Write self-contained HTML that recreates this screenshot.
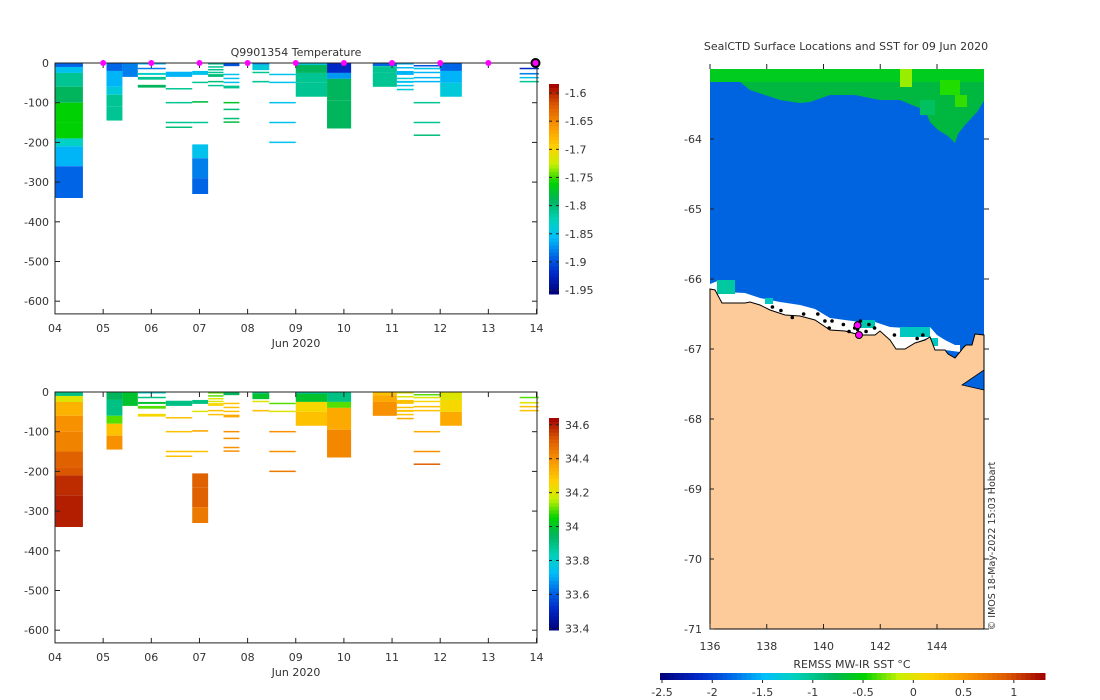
<!DOCTYPE html>
<html><head><meta charset="utf-8"><style>
html,body{margin:0;padding:0;background:#fff}
svg{display:block;font-family:"DejaVu Sans","Liberation Sans",sans-serif;font-size:11px;fill:#333}
</style></head><body>
<svg id="chart" width="1100" height="700" viewBox="0 0 1100 700" xmlns="http://www.w3.org/2000/svg">
<g id="g-top"></g>
<g id="g-bot"></g>
<g id="g-map"></g>
</svg>
<script>
// ---- data ----
const castStart=[0,1.07,1.4,1.72,2.3,2.85,3.18,3.5,4.1,4.45,5.0,5.65,6.6,7.1,7.45,8.0,9.65];
const castEnd=[0.58,1.4,1.72,2.3,2.85,3.18,3.5,3.83,4.45,5.0,5.65,6.15,7.1,7.45,8.0,8.45,10.05];
const castDepths=[
[[0,10],[10,25],[25,60],[60,100],[100,150],[150,190],[190,210],[210,260],[260,340]],
[[0,20],[20,60],[60,80],[80,110],[110,145]],
[[0,35]],
[[0,3],[12,15],[25,30],[35,42],[55,62]],
[[22,35],[63,66],[98,101],[148,151],[160,163]],
[[20,30],[47,50],[96,100],[148,151],[205,240],[240,290],[290,330]],
[[0,4],[8,11],[15,18],[22,25],[28,35],[45,48],[55,58]],
[[0,8],[27,30],[37,40],[47,50],[57,64],[98,101],[115,118],[138,141],[147,150]],
[[0,4],[4,18],[22,25],[45,49]],
[[27,30],[47,50],[98,101],[148,151],[198,201]],
[[0,5],[5,25],[25,50],[50,85]],
[[0,25],[25,40],[40,95],[95,165]],
[[0,8],[8,25],[25,60]],
[[0,4],[10,13],[20,30],[37,40],[45,50],[55,58],[65,68]],
[[5,8],[12,16],[22,25],[35,38],[45,48],[98,101],[148,151],[180,183]],
[[0,20],[20,50],[50,85]],
[[12,15],[25,29],[35,38],[45,48]]
];
const castTemp=[
[-1.89,-1.85,-1.81,-1.79,-1.76,-1.76,-1.83,-1.86,-1.89],
[-1.89,-1.86,-1.84,-1.81,-1.81],
[-1.88],
[-1.86,-1.88,-1.83,-1.81,-1.79],
[-1.86,-1.81,-1.81,-1.81,-1.8],
[-1.85,-1.81,-1.78,-1.81,-1.85,-1.88,-1.89],
[-1.81,-1.81,-1.81,-1.81,-1.8,-1.8,-1.81],
[-1.9,-1.85,-1.85,-1.85,-1.81,-1.77,-1.8,-1.8,-1.78],
[-1.88,-1.84,-1.81,-1.81],
[-1.85,-1.85,-1.85,-1.85,-1.85],
[-1.84,-1.79,-1.81,-1.81],
[-1.92,-1.87,-1.79,-1.79],
[-1.89,-1.81,-1.81],
[-1.86,-1.86,-1.86,-1.84,-1.85,-1.85,-1.84],
[-1.9,-1.85,-1.86,-1.86,-1.86,-1.81,-1.81,-1.8],
[-1.89,-1.86,-1.84],
[-1.92,-1.88,-1.85,-1.81]
];
const castSal=[
[33.9,34.2,34.33,34.4,34.43,34.5,34.52,34.58,34.6],
[33.95,33.9,34.1,34.3,34.4],
[34.0],
[33.8,33.9,34.0,34.1,34.25],
[33.9,34.3,34.3,34.3,34.3],
[33.9,34.2,34.35,34.3,34.5,34.5,34.45],
[34.1,34.1,34.2,34.2,34.25,34.3,34.3],
[33.95,34.3,34.3,34.3,34.35,34.4,34.4,34.4,34.4],
[33.9,34.0,34.2,34.3],
[34.1,34.2,34.4,34.4,34.45],
[33.9,34.0,34.25,34.3],
[33.9,34.1,34.35,34.42],
[34.3,34.35,34.4],
[34.2,34.2,34.3,34.3,34.3,34.3,34.35],
[34.1,34.2,34.25,34.3,34.3,34.35,34.4,34.5],
[34.2,34.25,34.35],
[34.1,34.2,34.3,34.3]
];
const dayLabels=["04","05","06","07","08","09","10","11","12","13","14"];
const depthTicks=[0,-100,-200,-300,-400,-500,-600];
const tempTicks=[-1.6,-1.65,-1.7,-1.75,-1.8,-1.85,-1.9,-1.95];
const salTicks=[34.6,34.4,34.2,34,33.8,33.6,33.4];
const surfaceMarkDays=[1,2,3,4,5,6,7,8,9];
const lastMarkDay=10;
const lonTicks=[136,138,140,142,144];
const latTicks=[-64,-65,-66,-67,-68,-69,-70,-71];
const sstTicks=[-2.5,-2,-1.5,-1,-0.5,0,0.5,1];
const stationLon=[138.2,138.5,138.9,139.3,139.8,140.3,140.7,140.9,141.1,141.3,141.5,141.6,141.8,142.5,143.3,143.5,140.05,140.2,141.2];
const stationLat=[-66.4,-66.45,-66.55,-66.5,-66.5,-66.6,-66.65,-66.75,-66.7,-66.6,-66.75,-66.65,-66.7,-66.8,-66.85,-66.8,-66.6,-66.7,-66.72];
const latestLon=[141.2,141.25];
const latestLat=[-66.66,-66.8];

// ---- helpers ----
const NS="http://www.w3.org/2000/svg";
function mk(tag,attrs,parent){const e=document.createElementNS(NS,tag);for(const k in attrs)e.setAttribute(k,attrs[k]);parent.appendChild(e);return e;}
const stops=[[0,[0,0,120]],[0.1,[0,40,200]],[0.18,[0,100,230]],[0.27,[0,190,250]],[0.35,[0,210,190]],[0.45,[0,180,90]],[0.53,[0,210,0]],[0.62,[200,240,0]],[0.7,[255,210,0]],[0.8,[250,150,0]],[0.9,[220,90,0]],[1,[160,0,0]]];
function cmap(t){t=Math.max(0,Math.min(1,t));for(let i=1;i<stops.length;i++){if(t<=stops[i][0]){const a=stops[i-1],b=stops[i];const f=(t-a[0])/(b[0]-a[0]);const c=a[1].map((v,j)=>Math.round(v+(b[1][j]-v)*f));return `rgb(${c[0]},${c[1]},${c[2]})`;}}return 'rgb(160,0,0)';}

function profilePanel(g,y0,values,vmin,vmax,ticks,cbTop,cbBot,title,name){
  const X0=55,X1=537,dayW=48.15,pxPer100=39.7;
  const xs=d=>X0+d*dayW, ys=z=>y0-z/100*pxPer100;
  const yBottom=ys(-632);
  for(let c=0;c<castStart.length;c++){
    for(let s=0;s<castDepths[c].length;s++){
      const seg=castDepths[c][s];
      const r=mk('rect',{x:xs(castStart[c]),y:ys(-seg[0]),width:xs(castEnd[c])-xs(castStart[c]),height:Math.max(1.5,ys(-seg[1])-ys(-seg[0])),fill:cmap((values[c][s]-vmin)/(vmax-vmin))},g);
      
      
    }
  }
  const fr=mk('rect',{x:X0,y:y0,width:X1-X0,height:yBottom-y0,fill:'none',stroke:'#222','stroke-width':1},g);
  
  
  depthTicks.forEach(d=>{const y=ys(d);
    mk('line',{x1:X0,x2:X0+5,y1:y,y2:y,stroke:'#222'},g);mk('line',{x1:X1-5,x2:X1,y1:y,y2:y,stroke:'#222'},g);
    const t=mk('text',{x:X0-6,y:y+4,'text-anchor':'end'},g);t.textContent=d;
    
    });
  dayLabels.forEach((l,i)=>{const x=xs(i);
    mk('line',{x1:x,x2:x,y1:yBottom,y2:yBottom-5,stroke:'#222'},g);mk('line',{x1:x,x2:x,y1:y0,y2:y0+5,stroke:'#222'},g);
    const t=mk('text',{x:x,y:yBottom+18,'text-anchor':'middle'},g);t.textContent=l;
    
    });
  const xl=mk('text',{x:296,y:yBottom+33,'text-anchor':'middle'},g);xl.textContent='Jun 2020';
  
  
  if(title){const tt=mk('text',{x:296,y:y0-7,'text-anchor':'middle'},g);tt.textContent=title;
    
    }
  const cbX=549,cbW=10,N=60;
  for(let i=0;i<N;i++){const r=mk('rect',{x:cbX,y:cbBot-(i+1)*(cbBot-cbTop)/N,width:cbW,height:(cbBot-cbTop)/N+0.5,fill:cmap((i+0.5)/N)},g);
    
    }
  const cyv=v=>cbBot-(v-vmin)/(vmax-vmin)*(cbBot-cbTop);
  ticks.forEach(v=>{const y=cyv(v);
    mk('line',{x1:cbX,x2:cbX+3,y1:y,y2:y,stroke:'#222'},g);mk('line',{x1:cbX+cbW-3,x2:cbX+cbW,y1:y,y2:y,stroke:'#222'},g);
    const t=mk('text',{x:cbX+cbW+6,y:y+4},g);t.textContent=v;
    
    });
  return {xs,ys};
}

const topG=document.getElementById('g-top');
const ax=profilePanel(topG,63,castTemp,-1.957,-1.584,tempTicks,84,294,'Q9901354  Temperature','temperature');
surfaceMarkDays.forEach(d=>{const m=mk('circle',{cx:ax.xs(d),cy:63,r:3,fill:'#ff00ff'},topG);
  
  });
const lm=mk('circle',{cx:ax.xs(lastMarkDay)-1,cy:63,r:4,fill:'#ff00ff',stroke:'#000','stroke-width':2},topG);


profilePanel(document.getElementById('g-bot'),392,castSal,33.39,34.64,salTicks,418,630,null,'salinity');

// ---- map ----
const gm=document.getElementById('g-map');
const MX0=710,MX1=984,MY0=69,MY1=629;
const lx=l=>MX0+(l-136)*28.375, ly=l=>139+(-64-l)*70;
const ocean=mk('rect',{x:MX0,y:MY0,width:MX1-MX0,height:MY1-MY0,fill:'#0064e0'},gm);


const ice=mk('polygon',{points:'710,69 984,69 984,101 977,112 965,125 958,134 955,143 948,136 938,130 930,122 925,110 912,105 900,100 880,100 855,95 830,95 810,102 800,103 780,100 765,95 750,90 740,82 710,82',fill:'#00b840'},gm);


[[710,69,274,13,'#00cc20'],[900,69,12,18,'#99ee00'],[955,95,12,12,'#33dd00'],[940,80,20,15,'#22dd00'],[920,100,15,15,'#00c060']].forEach(p=>{const r=mk('rect',{x:p[0],y:p[1],width:p[2],height:p[3],fill:p[4]},gm);
  
  });
const strip=mk('polygon',{points:'710,284 720,280 722,292 745,293 760,298 780,302 800,305 815,309 830,318 845,320 860,322 875,322 890,327 905,328 930,327 937,335 945,340 955,345 960,345 960,352 945,350 935,350 930,337 915,343 905,349 896,349 890,340 880,331 875,335 860,335 845,331 830,330 815,320 800,316 785,315 770,310 760,305 750,302 745,303 722,303 715,290 710,289',fill:'#fff'},gm);


[[717,280,18,14,'#00c8a0'],[765,298,8,6,'#00c8c0'],[860,320,15,8,'#00c8b0'],[900,327,30,10,'#00c8c0'],[928,338,10,8,'#00c8c0']].forEach(p=>{const r=mk('rect',{x:p[0],y:p[1],width:p[2],height:p[3],fill:p[4]},gm);
  
  });
const land=mk('polygon',{points:'710,289 715,290 722,303 745,303 750,302 760,305 770,310 785,315 800,316 815,320 830,330 845,331 860,335 875,335 880,331 890,340 896,349 905,349 915,343 925,340 930,337 935,350 945,350 948,354 955,358 960,352 963,348 966,345 972,345 975,334 984,335 984,629 710,629',fill:'#fdcb99',stroke:'#000','stroke-width':1},gm);


const inlet=mk('polygon',{points:'962,385 984,370 984,390',fill:'#0064e0',stroke:'#000','stroke-width':0.8},gm);


stationLon.forEach((l,i)=>{const c=mk('circle',{cx:lx(l),cy:ly(stationLat[i]),r:1.8,fill:'#000'},gm);
  
  });
latestLon.forEach((l,i)=>{const c=mk('circle',{cx:lx(l),cy:ly(latestLat[i]),r:3.5,fill:'#ff00ff',stroke:'#000','stroke-width':1},gm);
  
  });
lonTicks.forEach(l=>{const x=lx(l);
  mk('line',{x1:x,x2:x,y1:MY1,y2:MY1-5,stroke:'#222'},gm);mk('line',{x1:x,x2:x,y1:MY0-5,y2:MY0,stroke:'#222'},gm);
  const t=mk('text',{x:x,y:MY1+21,'text-anchor':'middle'},gm);t.textContent=l;
  
  });
latTicks.forEach(l=>{const y=ly(l);
  mk('line',{x1:MX0,x2:MX0+4,y1:y,y2:y,stroke:'#222'},gm);mk('line',{x1:MX1,x2:MX1+5,y1:y,y2:y,stroke:'#222'},gm);
  const t=mk('text',{x:MX0-8,y:y+4,'text-anchor':'end'},gm);t.textContent=l;
  
  });
const mt=mk('text',{x:846,y:50,'text-anchor':'middle'},gm);mt.textContent='SealCTD Surface Locations and SST for 09 Jun 2020';


const cr=mk('text',{x:995,y:546,'text-anchor':'middle','font-size':'9.5',transform:'rotate(-90 995 546)'},gm);cr.textContent='© IMOS 18-May-2022 15:03 Hobart';


const HB0=660,HB1=1045,HY=673,sstMin=-2.52,sstMax=1.31,NH=80;
for(let i=0;i<NH;i++){const r=mk('rect',{x:HB0+i*(HB1-HB0)/NH,y:HY,width:(HB1-HB0)/NH+0.5,height:7,fill:cmap((i+0.5)/NH)},gm);
  
  }
const hx=v=>HB0+(v-sstMin)/(sstMax-sstMin)*(HB1-HB0);
sstTicks.forEach(v=>{const x=hx(v);
  mk('line',{x1:x,x2:x,y1:HY+7,y2:HY+10,stroke:'#222'},gm);
  const t=mk('text',{x:x,y:HY+23,'text-anchor':'middle'},gm);t.textContent=v;
  
  });
const ct=mk('text',{x:852,y:668,'text-anchor':'middle'},gm);ct.textContent='REMSS MW-IR SST °C';


</script>
</body></html>
